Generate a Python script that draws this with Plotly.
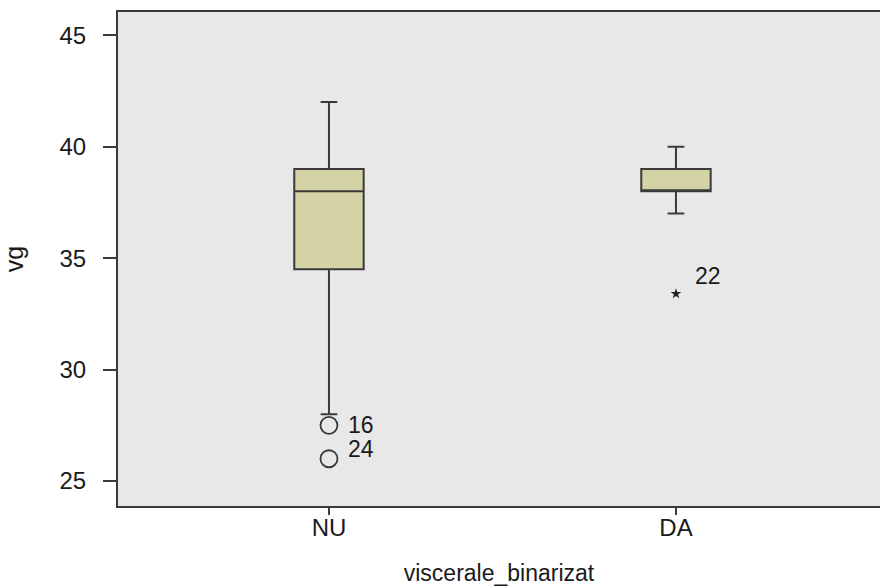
import plotly.graph_objects as go

categories = ["NU", "DA"]
q1 = [34.5, 38.0]
median = [38.0, 38.0]
q3 = [39.0, 39.0]
lower_whisker = [28.0, 37.0]
upper_whisker = [42.0, 40.0]

out_cat = ["NU", "NU"]
out_val = [27.5, 26.0]
out_lbl = ["16", "24"]

ext_cat = ["DA"]
ext_val = [33.4]
ext_lbl = ["22"]

y_ticks = [25, 30, 35, 40, 45]

font_family = "Liberation Sans, Arial, sans-serif"
line_col = "#3a3a3a"
txt_col = "#1a1a1a"

fig = go.Figure()
fig.add_trace(go.Box(
    x=categories, q1=q1, median=median, q3=q3,
    lowerfence=lower_whisker, upperfence=upper_whisker,
    fillcolor="#d4d3a5", line=dict(color=line_col, width=2),
    width=0.2, whiskerwidth=0.24, boxpoints=False, showlegend=False,
    hoverinfo="skip",
))
fig.add_trace(go.Scatter(
    x=out_cat, y=out_val, mode="markers",
    marker=dict(symbol="circle-open", size=17, color=line_col,
                line=dict(width=1.8, color=line_col)),
    showlegend=False, hoverinfo="skip",
))
fig.add_trace(go.Scatter(
    x=ext_cat, y=ext_val, mode="markers",
    marker=dict(symbol="star", size=8, color="#222"),
    showlegend=False, hoverinfo="skip",
))

offsets = [(17, 0), (17, 10)]
for c, v, t, (dx, dy) in zip(out_cat, out_val, out_lbl, offsets):
    fig.add_annotation(x=c, y=v, text=t, showarrow=False, xanchor="left",
                       xshift=dx, yshift=dy,
                       font=dict(size=23, color=txt_col, family=font_family))
for c, v, t in zip(ext_cat, ext_val, ext_lbl):
    fig.add_annotation(x=c, y=v, text=t, showarrow=False, xanchor="left",
                       xshift=17, yshift=18,
                       font=dict(size=23, color=txt_col, family=font_family))

fig.update_layout(
    width=880, height=588,
    margin=dict(l=118, r=0, t=12, b=82),
    paper_bgcolor="white", plot_bgcolor="#e8e8e8",
    font=dict(family=font_family, size=24, color=txt_col),
    xaxis=dict(
        type="category", range=[-0.608, 1.588],
        showline=True, linecolor=line_col, linewidth=2, mirror=True,
        ticks="outside", ticklen=7, tickcolor=line_col, tickwidth=1.5,
        ticklabelstandoff=-8,
        showgrid=False, zeroline=False,
        tickfont=dict(size=24),
        title=dict(text="viscerale_binarizat", standoff=25, font=dict(size=23)),
    ),
    yaxis=dict(
        range=[23.88, 46.04], tickvals=y_ticks,
        showline=True, linecolor=line_col, linewidth=2,
        ticks="outside", ticklen=13, tickcolor=line_col, tickwidth=1.5,
        ticklabelstandoff=12,
        showgrid=False, zeroline=False,
        tickfont=dict(size=24),
        title=dict(text="vg", standoff=30, font=dict(size=25)),
    ),
)

fig.write_html("out.html", config={"displayModeBar": False},
               post_script="document.body.style.margin='0';document.body.style.overflow='hidden';")
